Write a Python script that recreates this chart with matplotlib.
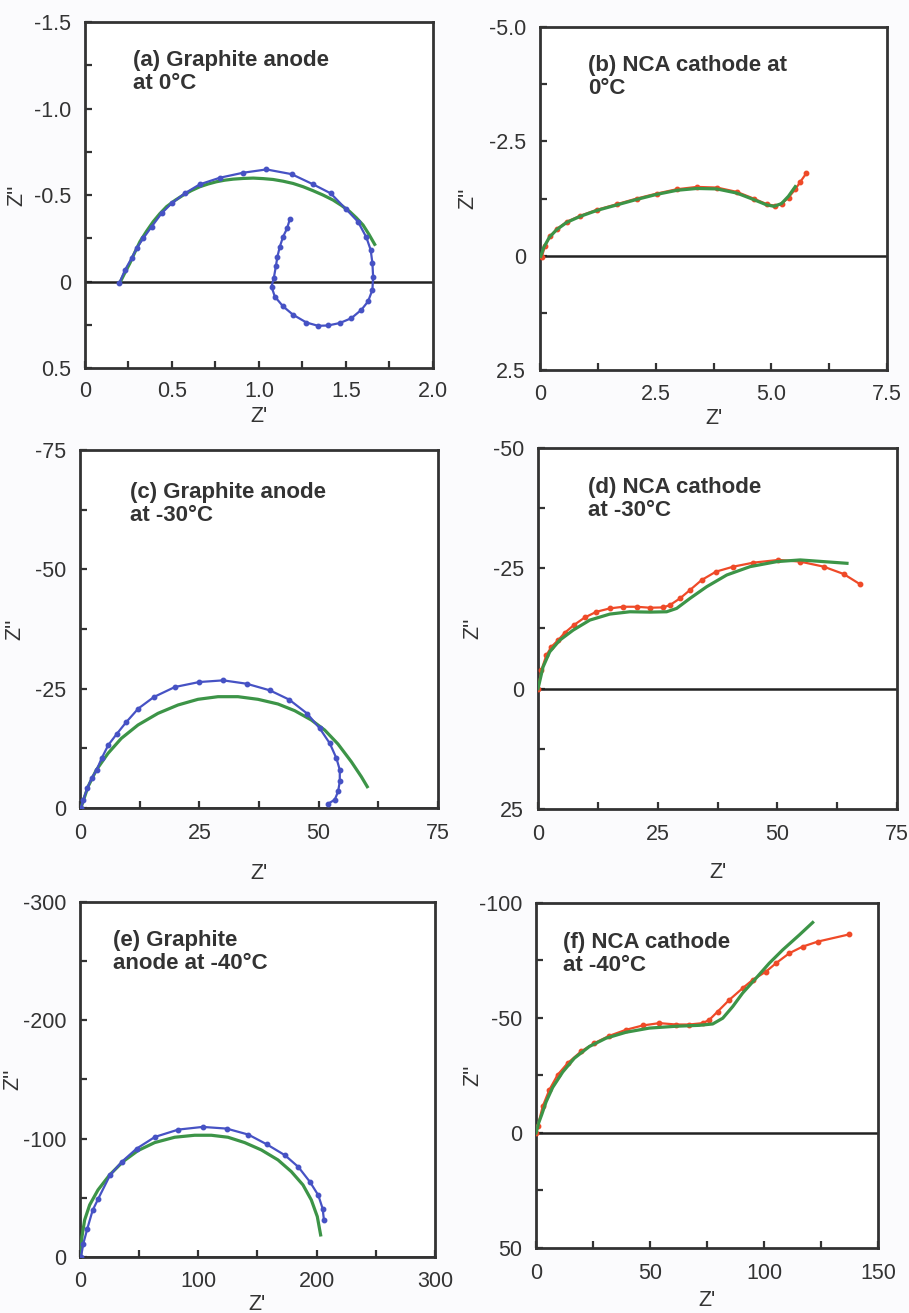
import matplotlib
matplotlib.use("Agg")
import matplotlib.pyplot as plt
from matplotlib.ticker import MultipleLocator

plt.rcParams['font.family'] = ['Liberation Sans', 'DejaVu Sans']

BLUE = '#4652c4'
GREEN = '#3c9447'
RED = '#ef4a28'
TXT = '#333333'

# ---------------- data (a) Graphite anode at 0 C ----------------
a_meas_x = [0.197, 0.230, 0.268, 0.297, 0.335, 0.383, 0.440, 0.498, 0.574, 0.660, 0.775, 0.909,
            1.043, 1.187, 1.311, 1.412, 1.502, 1.569, 1.617, 1.642, 1.652, 1.656, 1.652, 1.627,
            1.589, 1.531, 1.464, 1.397, 1.340, 1.273, 1.196, 1.139, 1.091, 1.072, 1.085, 1.097,
            1.106, 1.120, 1.139, 1.162, 1.177]
a_meas_y = [0.010, -0.067, -0.135, -0.192, -0.250, -0.317, -0.394, -0.452, -0.510, -0.562, -0.600, -0.629,
            -0.648, -0.621, -0.562, -0.510, -0.417, -0.346, -0.256, -0.183, -0.106, -0.029, 0.048, 0.115,
            0.163, 0.212, 0.240, 0.254, 0.256, 0.237, 0.192, 0.144, 0.087, 0.029, -0.019, -0.087,
            -0.144, -0.202, -0.260, -0.308, -0.360]
a_fit_x = [0.201, 0.230, 0.258, 0.287, 0.316, 0.354, 0.392, 0.430, 0.469, 0.517, 0.565, 0.612, 0.660,
           0.708, 0.756, 0.804, 0.852, 0.910, 0.967, 1.024, 1.081, 1.139, 1.196, 1.254, 1.311, 1.368,
           1.426, 1.474, 1.522, 1.560, 1.598, 1.632, 1.665]
a_fit_y = [0.006, -0.052, -0.106, -0.170, -0.231, -0.291, -0.346, -0.392, -0.433, -0.469, -0.500, -0.526,
           -0.548, -0.564, -0.577, -0.586, -0.592, -0.596, -0.598, -0.595, -0.590, -0.580, -0.567, -0.548,
           -0.525, -0.500, -0.471, -0.440, -0.404, -0.368, -0.327, -0.273, -0.215]

# ---------------- data (b) NCA cathode at 0 C ----------------
b_meas_x = [0.036, 0.108, 0.216, 0.361, 0.577, 0.865, 1.226, 1.659, 2.091, 2.524, 2.957, 3.389,
            3.822, 4.255, 4.615, 4.904, 5.084, 5.228, 5.372, 5.517, 5.625, 5.755]
b_meas_y = [0.036, -0.218, -0.421, -0.581, -0.741, -0.872, -1.003, -1.126, -1.250, -1.359, -1.453, -1.504,
            -1.490, -1.395, -1.250, -1.126, -1.090, -1.141, -1.272, -1.453, -1.613, -1.802]
b_fit_x = [0.015, 0.080, 0.200, 0.360, 0.580, 0.870, 1.230, 1.660, 2.090, 2.520, 2.960, 3.390,
           3.820, 4.250, 4.610, 4.900, 5.060, 5.220, 5.370, 5.517]
b_fit_y = [0.015, -0.180, -0.400, -0.570, -0.730, -0.860, -0.990, -1.110, -1.230, -1.340, -1.430, -1.470,
           -1.460, -1.370, -1.230, -1.110, -1.080, -1.140, -1.300, -1.510]

# ---------------- data (c) Graphite anode at -30 C ----------------
c_meas_x = [0.21, 0.70, 1.54, 2.44, 3.49, 4.54, 5.93, 7.68, 9.63, 12.21, 15.49, 19.89, 24.98,
            30.01, 34.89, 39.78, 43.82, 47.59, 50.24, 52.34, 53.73, 54.43, 54.43, 54.08, 53.38, 51.99]
c_meas_y = [0.0, -1.74, -4.17, -6.25, -7.99, -10.42, -13.19, -15.49, -17.92, -20.83, -23.26, -25.35,
            -26.39, -26.74, -26.04, -24.65, -22.71, -19.79, -16.67, -13.54, -10.42, -7.99, -5.56,
            -3.47, -1.74, -0.90]
c_fit_x = [0.28, 1.68, 3.42, 5.87, 8.66, 12.15, 16.34, 20.53, 24.72, 28.91, 33.10, 37.29, 41.48,
           44.98, 48.46, 51.26, 54.05, 56.84, 58.94, 60.19]
c_fit_y = [-0.28, -4.47, -7.96, -11.45, -14.59, -17.39, -19.83, -21.58, -22.77, -23.32, -23.32, -22.77,
           -21.79, -20.39, -18.44, -16.34, -13.41, -9.71, -6.57, -4.47]

# ---------------- data (d) NCA cathode at -30 C ----------------
d_meas_x = [0.0, 0.70, 1.74, 2.79, 4.19, 5.58, 7.47, 9.77, 12.21, 15.00, 17.79, 20.59, 23.38, 26.17,
            27.56, 29.66, 31.75, 34.19, 37.19, 40.82, 45.01, 50.24, 54.78, 59.66, 63.85, 67.20]
d_meas_y = [0.0, -3.82, -6.94, -8.68, -10.07, -11.60, -13.19, -14.79, -15.97, -16.67, -17.01, -17.01,
            -16.81, -16.88, -17.36, -18.75, -20.49, -22.57, -24.31, -25.35, -26.18, -26.74, -26.39,
            -25.35, -23.82, -21.74]
d_fit_x = [0.0, 1.05, 2.44, 4.54, 7.33, 10.82, 15.00, 19.19, 23.38, 26.87, 28.96, 31.75, 35.24,
           39.43, 44.31, 49.90, 54.78, 59.66, 64.55]
d_fit_y = [0.0, -4.51, -7.64, -10.07, -12.15, -14.24, -15.49, -15.97, -15.90, -15.97, -16.67, -18.75,
           -21.18, -23.61, -25.35, -26.39, -26.74, -26.39, -26.04]

# ---------------- data (e) Graphite anode at -40 C ----------------
e_meas_x = [0.85, 2.82, 6.20, 10.70, 15.49, 25.35, 35.21, 47.89, 63.38, 83.10, 103.66, 123.94,
            142.25, 157.75, 173.24, 184.51, 194.37, 201.41, 205.07, 206.20]
e_meas_y = [0.0, -11.27, -23.94, -39.44, -49.30, -69.01, -80.28, -91.55, -101.41, -107.61, -109.86,
            -108.45, -103.38, -95.21, -85.92, -76.06, -63.38, -52.11, -40.85, -30.99]
e_fit_x = [0.56, 1.69, 3.94, 8.17, 15.21, 25.07, 36.34, 49.01, 63.10, 80.00, 96.90, 110.99, 125.07,
           139.16, 153.24, 167.33, 178.59, 188.45, 195.49, 200.56, 203.38]
e_fit_y = [-1.69, -17.18, -31.27, -43.94, -56.62, -69.30, -80.56, -89.86, -96.62, -101.13, -102.82,
           -102.82, -101.13, -96.62, -90.42, -81.97, -72.11, -60.85, -48.17, -34.08, -18.59]

# ---------------- data (f) NCA cathode at -40 C ----------------
f_meas_x = [0.0, 0.73, 2.92, 5.85, 9.50, 13.89, 19.74, 25.58, 32.16, 39.47, 46.78, 54.09, 61.40,
            67.25, 73.10, 76.02, 79.68, 84.80, 90.64, 95.03, 100.88, 105.26, 111.11, 116.96, 123.54,
            137.29]
f_meas_y = [0.0, -2.88, -11.56, -18.80, -25.31, -30.39, -35.44, -39.07, -42.25, -44.86, -46.74, -47.76,
            -47.16, -47.16, -47.76, -49.20, -52.80, -57.88, -62.96, -66.56, -70.17, -73.81, -78.16,
            -81.02, -83.19, -86.32]
f_fit_x = [0.0, 1.2, 2.5, 4.4, 7.3, 11.7, 16.8, 23.4, 30.7, 39.5, 49.7, 61.4, 71.6, 77.5, 81.9,
           86.3, 90.6, 96.5, 102.3, 108.2, 115.5, 121.35]
f_fit_y = [0.0, -4.5, -8.0, -13.5, -19.8, -26.5, -32.5, -37.6, -41.2, -43.8, -45.6, -46.4, -46.8,
           -47.4, -49.9, -55.0, -60.8, -67.3, -73.8, -79.6, -86.1, -91.5]

labels = ["(a) Graphite anode\nat 0°C", "(b) NCA cathode at\n0°C",
          "(c) Graphite anode\nat -30°C", "(d) NCA cathode\nat -30°C",
          "(e) Graphite\nanode at -40°C", "(f) NCA cathode\nat -40°C"]

# axes rectangles (left, bottom, width, height) in figure fraction
rects = [(0.0935, 0.7197, 0.3828, 0.2635), (0.5941, 0.7182, 0.3817, 0.2612),
         (0.0880, 0.3846, 0.3938, 0.2727), (0.5919, 0.3839, 0.3949, 0.2749),
         (0.0880, 0.0427, 0.3905, 0.2704), (0.5897, 0.0495, 0.3762, 0.2628)]

# (xmax, ylim_bottom, ylim_top, x major, y major, x labels, y labels)
specs = [
    (2.0, 0.5, -1.5, 0.5, 0.5, ["0", "0.5", "1.0", "1.5", "2.0"], ["-1.5", "-1.0", "-0.5", "0", "0.5"]),
    (7.5, 2.5, -5.0, 2.5, 2.5, ["0", "2.5", "5.0", "7.5"], ["-5.0", "-2.5", "0", "2.5"]),
    (75, 0, -75, 25, 25, ["0", "25", "50", "75"], ["-75", "-50", "-25", "0"]),
    (75, 25, -50, 25, 25, ["0", "25", "50", "75"], ["-50", "-25", "0", "25"]),
    (300, 0, -300, 100, 100, ["0", "100", "200", "300"], ["-300", "-200", "-100", "0"]),
    (150, 50, -100, 50, 50, ["0", "50", "100", "150"], ["-100", "-50", "0", "50"]),
]

meas = [(a_meas_x, a_meas_y, BLUE), (b_meas_x, b_meas_y, RED), (c_meas_x, c_meas_y, BLUE),
        (d_meas_x, d_meas_y, RED), (e_meas_x, e_meas_y, BLUE), (f_meas_x, f_meas_y, RED)]
fits = [(a_fit_x, a_fit_y), (b_fit_x, b_fit_y), (c_fit_x, c_fit_y),
        (d_fit_x, d_fit_y), (e_fit_x, e_fit_y), (f_fit_x, f_fit_y)]
text_pos = [(0.138, 0.92), (0.138, 0.918), (0.14, 0.91), (0.139, 0.92), (0.093, 0.92), (0.079, 0.916)]
xlabel_y = [-0.14, -0.14, -0.182, -0.175, -0.135, -0.151]
ylabel_x = [-0.195, -0.207, -0.182, -0.181, -0.189, -0.184]
xpads = [9, 10, 11, 11, 10, 11]

fig = plt.figure(figsize=(9.09, 13.13), dpi=100, facecolor='#fbfbfd')

for i in range(6):
    ax = fig.add_axes(rects[i])
    ax.set_facecolor('white')
    xmax, yb, yt, xmaj, ymaj, xl, yl = specs[i]
    mx, my, mc = meas[i]
    fx, fy = fits[i]
    if i % 2 == 0:
        ax.plot(fx, fy, color=GREEN, lw=2.3, zorder=3, solid_joinstyle='round')
        ax.plot(mx, my, color=mc, lw=1.6, marker='o', ms=3.2, zorder=4)
    else:
        ax.plot(mx, my, color=mc, lw=1.6, marker='o', ms=3.2, zorder=3)
        ax.plot(fx, fy, color=GREEN, lw=2.3, zorder=4, solid_joinstyle='round')
    ax.axhline(0, color='#222222', lw=1.8, zorder=2)
    ax.set_xlim(0, xmax)
    ax.set_ylim(yb, yt)
    xt = [xmaj * k for k in range(len(xl))]
    ax.set_xticks(xt)
    ax.set_xticklabels(xl)
    ytv = [yt + ymaj * k for k in range(len(yl))]
    ax.set_yticks(ytv)
    ax.set_yticklabels(yl)
    ax.xaxis.set_minor_locator(MultipleLocator(xmaj / 2))
    ax.yaxis.set_minor_locator(MultipleLocator(ymaj / 2))
    ax.tick_params(which='both', direction='in', length=5, width=1.6, color='#333333',
                   top=False, right=False, labelsize=15.5, labelcolor=TXT)
    ax.tick_params(axis='x', pad=xpads[i])
    ax.tick_params(axis='y', pad=10)
    for s in ax.spines.values():
        s.set_linewidth(2.0)
        s.set_color('#333333')
    ax.set_xlabel("Z'", fontsize=15.5, color=TXT)
    ax.xaxis.label.set_va('center')
    ax.xaxis.set_label_coords(0.5, xlabel_y[i])
    ax.set_ylabel("Z''", fontsize=15.5, color=TXT)
    ax.yaxis.label.set_va('center')
    ax.yaxis.set_label_coords(ylabel_x[i], 0.5)
    tx, ty = text_pos[i]
    ax.text(tx, ty, labels[i], transform=ax.transAxes, ha='left', va='top',
            fontsize=16, fontweight='bold', color=TXT, linespacing=1.12)

fig.savefig('out.png', dpi=100, facecolor=fig.get_facecolor())
